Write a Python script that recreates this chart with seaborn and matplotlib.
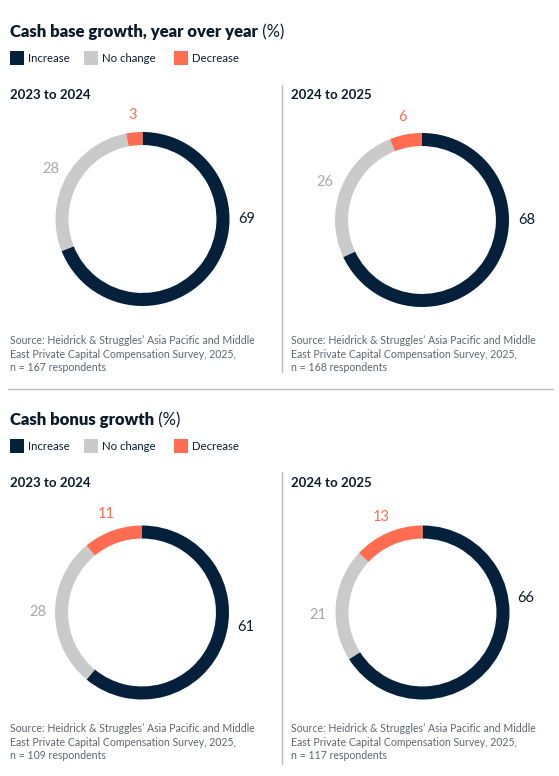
import matplotlib
matplotlib.use("Agg")
import numpy as np
import seaborn as sns
import matplotlib.pyplot as plt
from matplotlib.patches import Rectangle

# data
categories = ["Increase", "No change", "Decrease"]
base_2324 = [69, 28, 3]
base_2425 = [68, 26, 6]
bonus_2324 = [61, 28, 11]
bonus_2425 = [66, 21, 13]
respondents = [167, 168, 109, 117]
periods = ["2023 to 2024", "2024 to 2025"]
section_titles = ["Cash base growth, year over year", "Cash bonus growth"]

sns.set_theme(style="white")
plt.rcParams["font.family"] = ["Lato", "DejaVu Sans"]

colors = sns.color_palette(["#04203a", "#cacaca", "#ff6c50"])
label_colors = ["#0b1b2c", "#a8a8a8", "#ff6c50"]
navy = "#0b1b2c"
src_color = "#5e6670"
rule_color = "#b9b9bf"

W, H = 559, 776
fig = plt.figure(figsize=(W / 100, H / 100), dpi=100)
fig.patch.set_facecolor("white")

# overlay axes in pixel coords for text and rules
bg = fig.add_axes([0, 0, 1, 1])
bg.set_xlim(0, W)
bg.set_ylim(H, 0)
bg.axis("off")

R = 87


def donut(cx, cy, vals, inc_angle=90, nc_shift=0):
    side = 2 * R * 1.45
    ax = fig.add_axes([(cx - side / 2) / W, 1 - (cy + side / 2) / H, side / W, side / H])
    ax.pie(vals, colors=colors, startangle=90, counterclock=False, radius=1,
           wedgeprops=dict(width=0.15, edgecolor="none"))
    ax.set_xlim(-1.45, 1.45)
    ax.set_ylim(-1.45, 1.45)
    ax.set_aspect("equal")
    ax.axis("off")
    cum = 0
    for i, v in enumerate(vals):
        t = 360 * (cum + v / 2) / sum(vals)
        if i == 0:
            t = inc_angle
        if i == 1:
            t += nc_shift
        r = 1.2
        ax.text(r * np.sin(np.radians(t)), r * np.cos(np.radians(t)), str(v),
                ha="center", va="center", fontsize=10.5, color=label_colors[i])
        cum += v


def section(y0, title, data, ns):
    t = bg.text(10, y0, title, fontsize=12, fontweight="heavy", color=navy, va="center")
    bg.annotate(" (%)", xy=(1, 0.5), xycoords=t, va="center", fontsize=12, color=navy)
    # legend
    lx = [10, 84, 174]
    for i, c in enumerate(categories):
        bg.add_patch(Rectangle((lx[i], y0 + 19), 14, 14, color=colors[i], lw=0))
        bg.text(lx[i] + 18, y0 + 26, c, fontsize=8.2, color=navy, va="center")
    for k in range(2):
        x0 = 10 if k == 0 else 291
        bg.text(x0, y0 + 63, periods[k], fontsize=9.5, fontweight="bold", color=navy, va="center")
        src = ("Source: Heidrick & Struggles\u2019 Asia Pacific and Middle\n"
               "East Private Capital Compensation Survey, 2025,\n"
               f"n = {ns[k]} respondents")
        bg.text(x0, y0 + 322, src, fontsize=7.6, color=src_color, va="center",
                linespacing=1.25)


section(32, section_titles[0], [base_2324, base_2425], respondents[:2])
section(420, section_titles[1], [bonus_2324, bonus_2425], respondents[2:])

# rules
bg.plot([282, 282], [85, 372], color=rule_color, lw=1)
bg.plot([282, 282], [472, 764], color=rule_color, lw=1)
bg.plot([8, 553], [389, 389], color=rule_color, lw=1)

donut(142.5, 219, base_2324)
donut(422, 220, base_2425)
donut(142, 612.5, bonus_2324, inc_angle=98)
donut(422.5, 612.5, bonus_2425, inc_angle=82, nc_shift=-7)

fig.savefig("out.png", dpi=100, facecolor="white")
